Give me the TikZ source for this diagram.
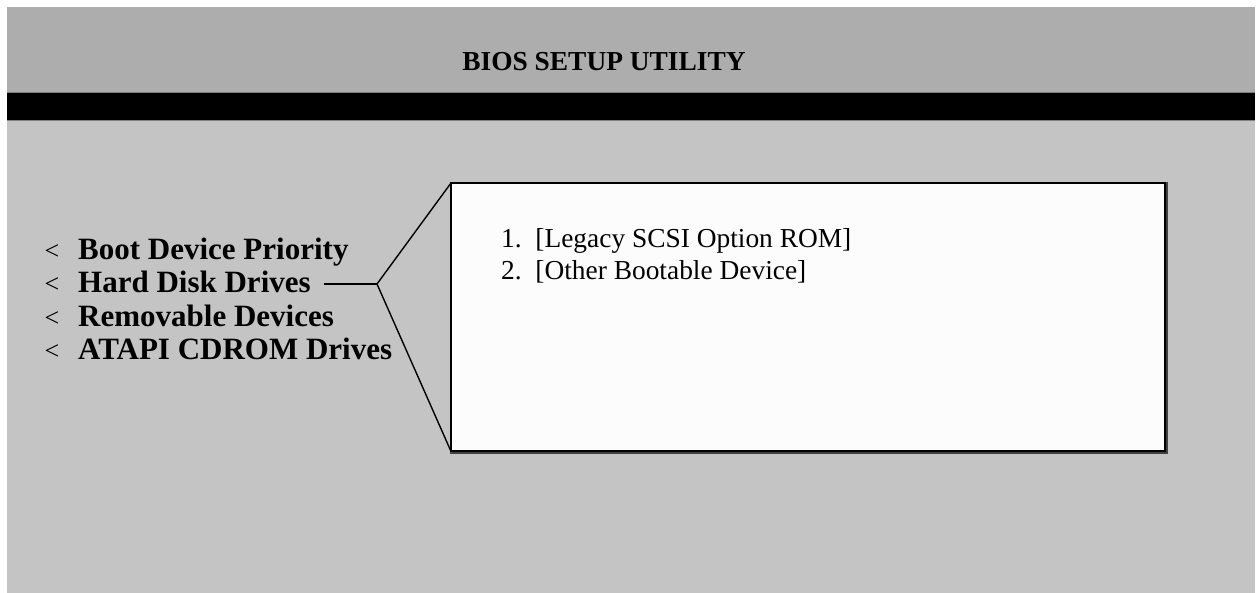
\documentclass[tikz,border=0pt]{standalone}
\usepackage{fontspec}
\setmainfont{Liberation Serif}
\definecolor{hdrgray}{HTML}{ADADAD}
\definecolor{bodygray}{HTML}{C4C4C4}
\definecolor{boxwhite}{HTML}{FCFCFC}
\tikzset{
  menuitem/.style={anchor=base west,inner sep=0pt,font=\fontsize{31}{36}\selectfont\bfseries},
  marker/.style={anchor=base,inner sep=0pt,font=\fontsize{26}{30}\selectfont},
  entry/.style={anchor=base west,inner sep=0pt,font=\fontsize{27.4}{32}\selectfont},
  callout/.style={line width=1.4pt,black}
}
\begin{document}
\begin{tikzpicture}[x=1pt,y=-1pt]
			\useasboundingbox[fill=white] (0,0) rectangle (1259,593);
			\fill[bodygray] (7,121) rectangle (1255,593);
			\fill[hdrgray] (7,7) rectangle (1255,93);
			\fill[black] (7,93) rectangle (1255,121);
			\draw[gray,line width=1pt] (7,93)--(1255,93);
			\draw[gray,line width=1pt] (7,121)--(1255,121);
			\node[font=\fontsize{27.4}{32}\selectfont\bfseries] (title) at (604,62) {BIOS SETUP UTILITY};
			% menu on the left
			\node[marker] (m1) at (52,260) {<};
			\node[marker] (m2) at (52,293) {<};
			\node[marker] (m3) at (52,327) {<};
			\node[marker] (m4) at (52,360) {<};
			\node[menuitem] (boot) at (78,260) {Boot Device Priority};
			\node[menuitem] (hdd) at (78,293) {Hard Disk Drives};
			\node[menuitem] (remov) at (78,327) {Removable Devices};
			\node[menuitem] (atapi) at (78,360) {ATAPI CDROM Drives};
			% popup box
			\draw[line width=4pt,black!75] (452,184) rectangle (1166,452);
			\draw[fill=boxwhite,line width=1.6pt] (451,183) rectangle (1165,451);
			\node[draw=none,minimum width=714pt,minimum height=268pt,anchor=north west,inner sep=0pt] (box) at (451,183) {};
			\node[entry] (e1) at (501,248) {1.\ \ [Legacy SCSI Option ROM]};
			\node[entry] (e2) at (501,280) {2.\ \ [Other Bootable Device]};
			\coordinate (tip) at (377,284);
			\draw[callout] ([xshift=13pt]hdd.east |- tip) -- (tip);
			\draw[callout] (tip) -- (box.north west);
			\draw[callout] (tip) -- (box.south west);
			\end{tikzpicture}
\end{document}
